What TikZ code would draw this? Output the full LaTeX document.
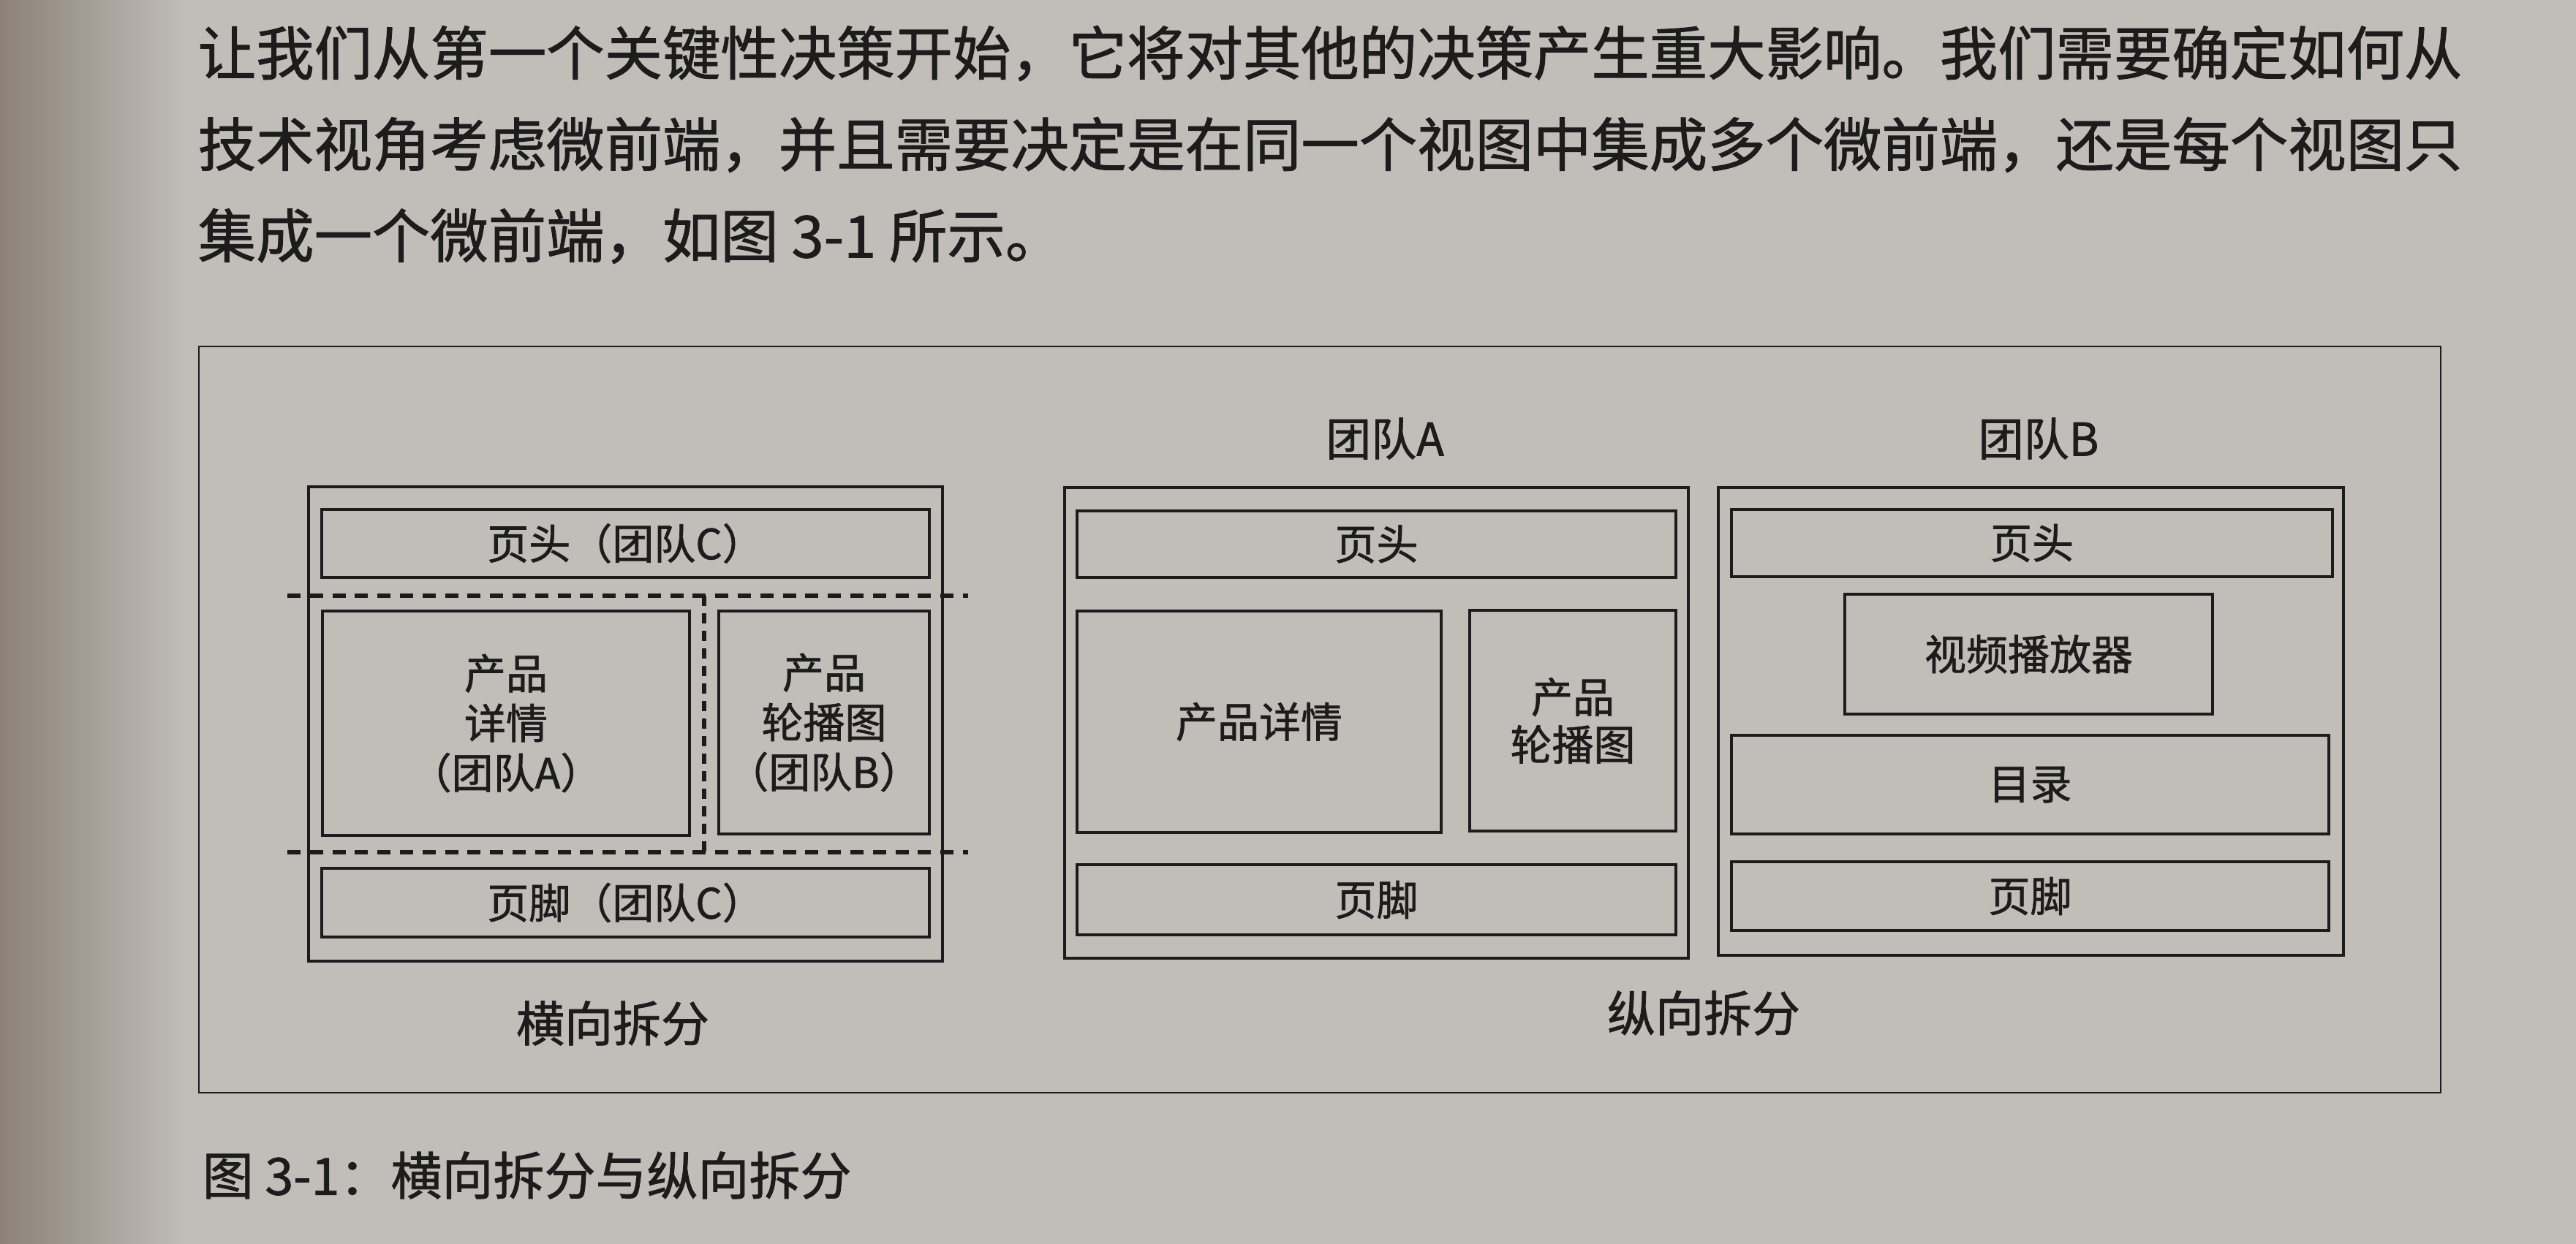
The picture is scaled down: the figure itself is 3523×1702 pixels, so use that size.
\documentclass[tikz,border=0pt]{standalone}
\usepackage{fontspec}
\setmainfont{Noto Sans CJK SC}[RawFeature={embolden=1.2}]
\definecolor{paper}{RGB}{193,190,185}
\definecolor{paperdark}{RGB}{140,130,120}
\definecolor{inkc}{RGB}{28,28,28}
\newcommand\rsBody{\fontsize{19.85pt}{24pt}\selectfont}
\newcommand\rsBox{\fontsize{14.25pt}{17pt}\selectfont}
\newcommand\rsTeam{\fontsize{15.5pt}{18pt}\selectfont}
\newcommand\rsSplit{\fontsize{16.5pt}{20pt}\selectfont}
\newcommand\rsCap{\fontsize{17.5pt}{21pt}\selectfont}
\begin{document}
\begin{tikzpicture}[x=0.25pt,y=-0.25pt,
  box/.style={draw=inkc, line width=0.95pt, rectangle, inner sep=0pt, align=center, text=inkc, font=\rsBox},
  outer/.style={draw=inkc, line width=0.95pt, rectangle, inner sep=0pt},
  frame/.style={draw=inkc, line width=0.7pt},
  divider/.style={draw=inkc, line width=1.3pt, dash pattern=on 4.5pt off 3.2pt},
  bodytext/.style={anchor=west, inner sep=0pt, text=inkc, font=\rsBody},
  label/.style={inner sep=0pt, text=inkc}]
\useasboundingbox (0,0) rectangle (3523,1702);
% paper
\fill[paper] (0,0) rectangle (3523,1702);
\shade[left color=paperdark, right color=paper] (0,0) rectangle (260,1702);

% body text
\node[bodytext] (p1) at (270,73) {让我们从第一个关键性决策开始，它将对其他的决策产生重大影响。我们需要确定如何从};
\node[bodytext] (p2) at (270,198) {技术视角考虑微前端，并且需要决定是在同一个视图中集成多个微前端，还是每个视图只};
\node[bodytext] (p3) at (270,323) {集成一个微前端，如图 3-1 所示。};

% figure frame
\coordinate (ftl) at (272,474);
\coordinate (fbr) at (3338,1495);
\draw[frame] (ftl) rectangle (fbr);

% ---------- horizontal split (left) ----------
\node[outer, minimum width=216.75pt, minimum height=162.25pt] (lout) at (855.5,990.5) {};
\node[box, minimum width=207.75pt, minimum height=23.25pt] (lhead) at (855.5,743.5) {页头（团队C）};
\node[box, minimum width=125.5pt, minimum height=76.75pt] (ldet) at (692,989.5) {产品\\详情\\（团队A）};
\node[box, minimum width=72pt, minimum height=76.25pt] (lcar) at (1127,988.5) {产品\\轮播图\\（团队B）};
\node[box, minimum width=207.75pt, minimum height=23.5pt] (lfoot) at (855.5,1235) {页脚（团队C）};
\coordinate (d1l) at (393,815);
\coordinate (d1r) at (1324,815);
\coordinate (d2l) at (393,1166);
\coordinate (d2r) at (1324,1166);
\coordinate (dvt) at (963,815);
\coordinate (dvb) at (963,1166);
\draw[divider] (d1l) -- (d1r);
\draw[divider] (d2l) -- (d2r);
\draw[divider, dash pattern=on 3.4pt off 2.6pt] (dvt) -- (dvb);
\node[label, font=\rsSplit] (hsplit) at (838,1400) {横向拆分};

% ---------- vertical split: team A ----------
\node[label, font=\rsTeam] (teamA) at (1894,600) {团队A};
\node[outer, minimum width=213.25pt, minimum height=161pt] (mout) at (1882.5,989) {};
\node[box, minimum width=204.75pt, minimum height=22.75pt] (mhead) at (1882.5,744.5) {页头};
\node[box, minimum width=124.5pt, minimum height=75.75pt] (mdet) at (1722,987.5) {产品详情};
\node[box, minimum width=70.5pt, minimum height=75.5pt, font=\fontsize{14.25pt}{16.25pt}\selectfont] (mcar) at (2151,986) {产品\\轮播图};
\node[box, minimum width=204.75pt, minimum height=24pt] (mfoot) at (1882.5,1231) {页脚};

% ---------- vertical split: team B ----------
\node[label, font=\rsTeam] (teamB) at (2788,600) {团队B};
\node[outer, minimum width=213.75pt, minimum height=160pt] (rout) at (2777.5,987) {};
\node[box, minimum width=205.5pt, minimum height=23pt] (rhead) at (2779,743) {页头};
\node[box, minimum width=125.75pt, minimum height=41pt] (rvid) at (2774.5,895) {视频播放器};
\node[box, minimum width=204.25pt, minimum height=33.75pt] (rcat) at (2776.5,1073.5) {目录};
\node[box, minimum width=204.25pt, minimum height=23.5pt] (rfoot) at (2776.5,1226) {页脚};

\node[label, font=\rsSplit] (vsplit) at (2330,1386) {纵向拆分};

% caption
\node[label, anchor=west, font=\rsCap] (cap) at (276,1608) {图 3-1：横向拆分与纵向拆分};
\end{tikzpicture}
\end{document}
